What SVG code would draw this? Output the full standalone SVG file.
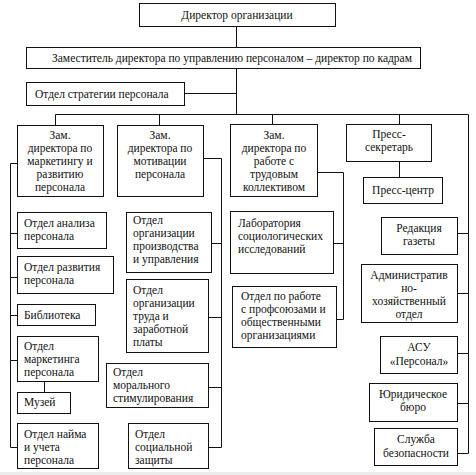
<svg xmlns="http://www.w3.org/2000/svg" width="476" height="475" viewBox="0 0 476 475">
<style>
rect.b{fill:#fff;stroke:#111;stroke-width:1}
.c path{fill:none;stroke:#111;stroke-width:1}
text{font-family:"Liberation Serif","DejaVu Serif",serif;font-size:11.5px;fill:#111}
.m{text-anchor:middle}
</style>
<rect x="0" y="0" width="476" height="475" fill="#fff"/>
<rect x="0" y="472" width="476" height="3" fill="#ececec"/>
<g class="c">
<path d="M236.5 26.5V47.5M236.5 68.5V114.5M184.5 93.5H236.5"/>
<path d="M55.5 125.5V114.5H468.5V453.5M159.5 114.5V125.5M272.5 114.5V124.5M399.5 114.5V124.5M399.5 161.5V177.5"/>
<path d="M17.5 163.5H10.5V447.5H17.5M10.5 233.5H17.5M10.5 277.5H17.5M10.5 315.5H17.5M10.5 360.5H17.5M44.5 381.5V392.5"/>
<path d="M203.5 158.5H221.5V447.5H208.5M221.5 243.5H211.5M221.5 317.5H208.5M221.5 387.5H208.5"/>
<path d="M317.5 172.5H343.5V319.5H336.5M343.5 243.5H333.5"/>
<path d="M468.5 233.5H457.5M468.5 293.5H457.5M468.5 353.5H457.5M468.5 403.5H457.5M468.5 453.5H457.5"/>
</g>
<g font-family="Liberation Serif, DejaVu Serif, serif">
<g id="director"><rect class="b" x="139.5" y="3.5" width="196" height="23"/><text class="m" x="237" y="19">Директор организации</text></g>
<g id="deputy"><rect class="b" x="26.5" y="47.5" width="394" height="21"/><text class="m" x="232" y="62">Заместитель директора по управлению персоналом – директор по кадрам</text></g>
<g id="strategy"><rect class="b" x="26.5" y="82.5" width="158" height="23"/><text x="35" y="98">Отдел стратегии персонала</text></g>

<g id="dep-marketing"><rect class="b" x="17.5" y="125.5" width="86" height="71"/><text class="m" x="60" y="139">Зам.</text><text class="m" x="60" y="152">директора по</text><text class="m" x="60" y="165">маркетингу и</text><text class="m" x="60" y="178">развитию</text><text class="m" x="60" y="191">персонала</text></g>
<g id="dep-motivation"><rect class="b" x="117.5" y="125.5" width="86" height="71"/><text class="m" x="160" y="139">Зам.</text><text class="m" x="160" y="152">директора по</text><text class="m" x="160" y="165">мотивации</text><text class="m" x="160" y="178">персонала</text></g>
<g id="dep-labour"><rect class="b" x="230.5" y="124.5" width="87" height="72"/><text class="m" x="274" y="139">Зам.</text><text class="m" x="274" y="152">директора по</text><text class="m" x="274" y="165">работе с</text><text class="m" x="274" y="178">трудовым</text><text class="m" x="274" y="191">коллективом</text></g>
<g id="press-secretary"><rect class="b" x="346.5" y="124.5" width="85" height="37"/><text class="m" x="389" y="138">Пресс-</text><text class="m" x="389" y="151">секретарь</text></g>
<g id="press-centre"><rect class="b" x="363.5" y="177.5" width="79" height="26"/><text class="m" x="403" y="194">Пресс-центр</text></g>

<g id="analysis"><rect class="b" x="17.5" y="212.5" width="89" height="36"/><text x="24" y="227">Отдел анализа</text><text x="24" y="240">персонала</text></g>
<g id="development"><rect class="b" x="17.5" y="256.5" width="96" height="37"/><text x="24" y="271">Отдел развития</text><text x="24" y="284">персонала</text></g>
<g id="library"><rect class="b" x="17.5" y="304.5" width="78" height="21"/><text x="24" y="319">Библиотека</text></g>
<g id="marketing"><rect class="b" x="17.5" y="336.5" width="81" height="45"/><text x="24" y="350">Отдел</text><text x="24" y="363">маркетинга</text><text x="24" y="376">персонала</text></g>
<g id="museum"><rect class="b" x="17.5" y="392.5" width="53" height="21"/><text x="24" y="406">Музей</text></g>
<g id="hiring"><rect class="b" x="17.5" y="423.5" width="81" height="45"/><text x="24" y="438">Отдел найма</text><text x="24" y="451">и учета</text><text x="24" y="464">персонала</text></g>

<g id="production"><rect class="b" x="126.5" y="212.5" width="85" height="60"/><text x="133" y="224">Отдел</text><text x="133" y="237">организации</text><text x="133" y="250">производства</text><text x="133" y="263">и управления</text></g>
<g id="wages"><rect class="b" x="126.5" y="279.5" width="82" height="73"/><text x="133" y="294">Отдел</text><text x="133" y="307">организации</text><text x="133" y="320">труда и</text><text x="133" y="333">заработной</text><text x="133" y="346">платы</text></g>
<g id="moral"><rect class="b" x="106.5" y="363.5" width="102" height="44"/><text x="113" y="376">Отдел</text><text x="113" y="389">морального</text><text x="113" y="402">стимулирования</text></g>
<g id="social"><rect class="b" x="128.5" y="423.5" width="80" height="45"/><text x="135" y="438">Отдел</text><text x="135" y="451">социальной</text><text x="135" y="464">защиты</text></g>

<g id="laboratory"><rect class="b" x="230.5" y="211.5" width="103" height="62"/><text x="238" y="227">Лаборатория</text><text x="238" y="240">социологических</text><text x="238" y="253">исследований</text></g>
<g id="unions"><rect class="b" x="232.5" y="286.5" width="104" height="61"/><text x="241" y="300">Отдел по работе</text><text x="241" y="313">с профсоюзами и</text><text x="241" y="326">общественными</text><text x="241" y="339">организациями</text></g>

<g id="newspaper"><rect class="b" x="381.5" y="217.5" width="76" height="37"/><text class="m" x="419" y="232">Редакция</text><text class="m" x="419" y="245">газеты</text></g>
<g id="admin"><rect class="b" x="361.5" y="264.5" width="96" height="58"/><text class="m" x="409" y="279">Административ</text><text class="m" x="409" y="292">но-</text><text class="m" x="409" y="305">хозяйственный</text><text class="m" x="409" y="318">отдел</text></g>
<g id="asu"><rect class="b" x="380.5" y="336.5" width="77" height="37"/><text class="m" x="419" y="351">АСУ</text><text class="m" x="419" y="365">«Персонал»</text></g>
<g id="legal"><rect class="b" x="369.5" y="383.5" width="88" height="38"/><text class="m" x="413" y="398">Юридическое</text><text class="m" x="413" y="411">бюро</text></g>
<g id="security"><rect class="b" x="374.5" y="428.5" width="83" height="37"/><text class="m" x="416" y="443">Служба</text><text class="m" x="416" y="457">безопасности</text></g>
</g>
</svg>
